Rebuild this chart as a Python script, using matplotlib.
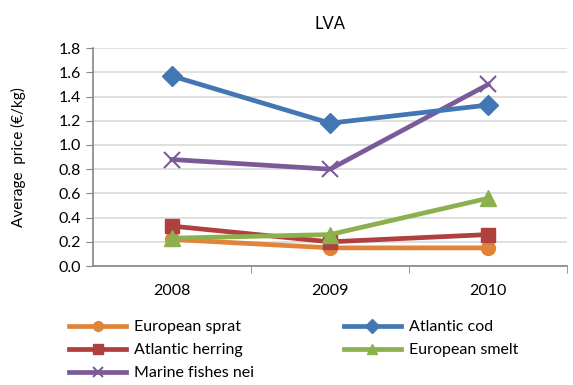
import matplotlib.pyplot as plt
import numpy as np

plt.rcParams['font.family'] = ['Lato', 'DejaVu Sans']

years = ['2008', '2009', '2010']
sprat = [0.22, 0.15, 0.15]
cod = [1.57, 1.18, 1.33]
herring = [0.33, 0.20, 0.26]
smelt = [0.23, 0.26, 0.56]
marine = [0.88, 0.80, 1.50]

x = np.arange(len(years))

fig = plt.figure(figsize=(5.73, 3.85), dpi=100)
ax = fig.add_axes([0.162, 0.309, 0.828, 0.566])

lw = 3.4
ax.plot(x, sprat, color='#E0843A', lw=lw, marker='o', ms=10, label='European sprat', zorder=3)
ax.plot(x, herring, color='#B0403D', lw=lw, marker='s', ms=10, label='Atlantic herring', zorder=3)
ax.plot(x, marine, color='#7A5A98', lw=lw, marker='x', ms=11, mew=1.5, label='Marine fishes nei', zorder=3)
ax.plot(x, cod, color='#4377B3', lw=lw, marker='D', ms=10, label='Atlantic cod', zorder=3)
ax.plot(x, smelt, color='#8DB04F', lw=lw, marker='^', ms=11, label='European smelt', zorder=4)

ax.set_xlim(-0.5, 2.5)
ax.set_ylim(0, 1.8)
ax.set_yticks(np.arange(0, 1.81, 0.2))
ax.set_yticklabels([f'{v:.1f}' for v in np.arange(0, 1.81, 0.2)])
ax.set_xticks(x)
ax.set_xticklabels(years)
ax.set_xticks([0.5, 1.5, 2.5], minor=True)
ax.tick_params(axis='x', which='major', length=0, pad=13, labelsize=11.5)
ax.tick_params(axis='x', which='minor', length=5, color='#868686')
ax.tick_params(axis='y', length=5, color='#868686', labelsize=11.5)
ax.grid(axis='y', color='#D9D9D9', lw=1.2)
ax.set_axisbelow(True)
for s in ['top', 'right']:
    ax.spines[s].set_visible(False)
for s in ['left', 'bottom']:
    ax.spines[s].set_color('#868686')
    ax.spines[s].set_linewidth(1.2)

ax.set_ylabel('Average  price (€/kg)', fontsize=11)
ax.yaxis.set_label_coords(-0.14, 0.5)
ax.set_title('LVA', fontsize=12, pad=14)

fig.legend(loc='lower left', bbox_to_anchor=(0.095, -0.025), ncol=2, frameon=False,
           fontsize=11.5, handlelength=3.6, handletextpad=0.5, columnspacing=5.6,
           labelspacing=0.55, markerscale=0.7)

fig.savefig('out.png', dpi=100)
